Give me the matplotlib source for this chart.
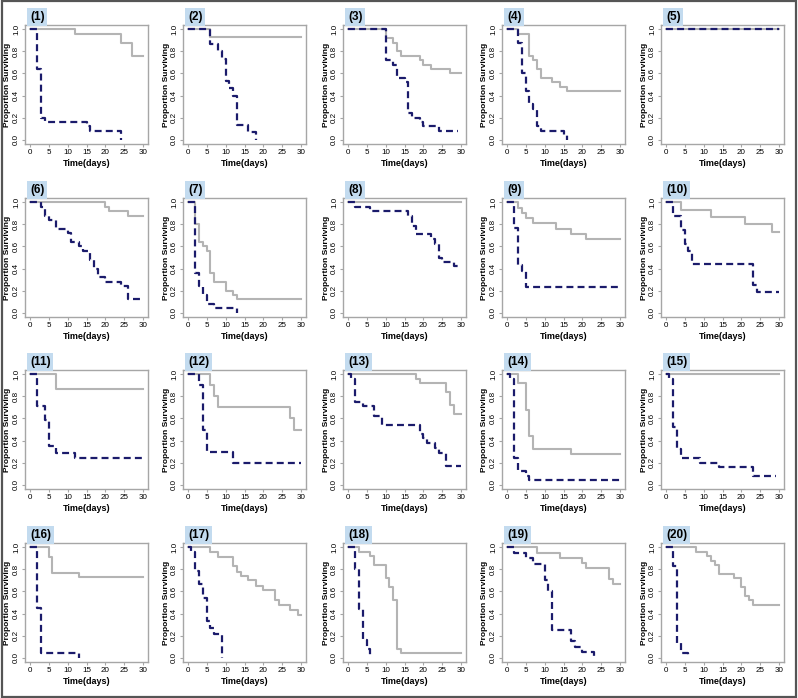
import matplotlib
matplotlib.use("Agg")
import matplotlib.pyplot as plt
from matplotlib.patches import Rectangle

plt.rcParams['font.family'] = ['Liberation Sans', 'DejaVu Sans']
plt.rcParams['lines.scale_dashes'] = False

# survival curves: g = grey solid group, d = navy dashed group
# times (days) and proportion surviving after each step
g1_t = [0, 12, 24, 27, 30]
g1_s = [1, .96, .88, .76, .76]
d1_t = [0, 2, 3, 4, 15, 16, 24]
d1_s = [1, .64, .20, .16, .12, .08, 0]

g2_t = [0, 6, 30]
g2_s = [1, .93, .93]
d2_t = [0, 6, 8, 9, 10, 11, 12, 13, 16, 18]
d2_s = [1, .87, .80, .73, .53, .47, .40, .13, .07, 0]

g3_t = [0, 10, 12, 13, 14, 19, 20, 22, 27, 30]
g3_s = [1, .92, .88, .80, .76, .72, .68, .64, .60, .60]
d3_t = [0, 10, 12, 13, 15, 16, 17, 19, 20, 24, 29]
d3_s = [1, .72, .68, .56, .52, .24, .20, .16, .12, .08, .08]

g4_t = [0, 3, 6, 7, 8, 9, 12, 14, 16, 30]
g4_s = [1, .96, .76, .72, .64, .56, .52, .48, .44, .44]
d4_t = [0, 3, 4, 5, 6, 7, 8, 9, 15, 16]
d4_s = [1, .88, .60, .44, .32, .28, .12, .08, .04, 0]

g5_t = [0, 30]
g5_s = [1, 1]
d5_t = [0, 30]
d5_s = [1, 1]

g6_t = [0, 20, 21, 26, 30]
g6_s = [1, .96, .92, .88, .88]
d6_t = [0, 3, 4, 5, 7, 10, 11, 13, 14, 16, 17, 18, 20, 24, 26, 30]
d6_s = [1, .96, .88, .84, .76, .72, .64, .60, .56, .48, .40, .32, .28, .24, .12, .12]

g7_t = [0, 2, 3, 4, 5, 6, 7, 10, 12, 13, 30]
g7_s = [1, .80, .64, .60, .56, .36, .28, .20, .16, .12, .12]
d7_t = [0, 2, 3, 4, 5, 7, 13]
d7_s = [1, .36, .24, .16, .08, .04, 0]

g8_t = [0, 30]
g8_s = [1, 1]
d8_t = [0, 2, 6, 16, 17, 18, 22, 23, 24, 25, 28, 30]
d8_s = [1, .96, .92, .88, .79, .71, .67, .62, .50, .46, .42, .42]

g9_t = [0, 3, 4, 5, 7, 13, 17, 21, 30]
g9_s = [1, .95, .90, .86, .81, .76, .71, .67, .67]
d9_t = [0, 2, 3, 4, 5, 30]
d9_s = [1, .77, .43, .38, .23, .23]

g10_t = [0, 4, 12, 21, 28, 30]
g10_s = [1, .93, .87, .80, .73, .73]
d10_t = [0, 2, 4, 5, 6, 7, 23, 24, 30]
d10_s = [1, .88, .75, .62, .56, .44, .25, .19, .19]

g11_t = [0, 7, 30]
g11_s = [1, .87, .87]
d11_t = [0, 2, 4, 5, 7, 12, 30]
d11_s = [1, .71, .59, .35, .29, .24, .24]

g12_t = [0, 6, 7, 8, 27, 28, 30]
g12_s = [1, .90, .80, .70, .60, .50, .50]
d12_t = [0, 3, 4, 5, 12, 30]
d12_s = [1, .90, .50, .30, .20, .20]

g13_t = [0, 18, 19, 26, 27, 28, 30]
g13_s = [1, .96, .92, .84, .72, .64, .64]
d13_t = [0, 1, 2, 4, 7, 9, 19, 20, 21, 23, 24, 26, 30]
d13_s = [1, .96, .75, .71, .62, .54, .46, .42, .38, .33, .29, .17, .17]

g14_t = [0, 3, 5, 6, 7, 17, 30]
g14_s = [1, .92, .68, .44, .32, .28, .28]
d14_t = [0, 1, 2, 3, 5, 6, 30]
d14_s = [1, .96, .24, .12, .08, .04, .04]

g15_t = [0, 30]
g15_s = [1, 1]
d15_t = [0, 1, 2, 3, 4, 9, 14, 23, 29]
d15_s = [1, .96, .52, .32, .24, .20, .16, .08, .08]

g16_t = [0, 5, 6, 13, 30]
g16_s = [1, .91, .77, .73, .73]
d16_t = [0, 2, 3, 13]
d16_s = [1, .45, .045, 0]

g17_t = [0, 6, 8, 12, 13, 14, 16, 18, 20, 23, 24, 27, 29, 30]
g17_s = [1, .96, .91, .83, .78, .74, .70, .65, .61, .52, .48, .43, .39, .39]
d17_t = [0, 1, 2, 3, 4, 5, 6, 7, 9]
d17_s = [1, .96, .79, .67, .54, .33, .27, .21, 0]

g18_t = [0, 3, 6, 7, 10, 11, 12, 13, 14, 30]
g18_s = [1, .96, .92, .84, .72, .64, .52, .08, .04, .04]
d18_t = [0, 2, 3, 4, 5, 6]
d18_s = [1, .80, .44, .16, .08, 0]

g19_t = [0, 8, 14, 20, 21, 27, 28, 30]
g19_s = [1, .95, .90, .86, .81, .71, .67, .67]
d19_t = [0, 2, 5, 7, 10, 11, 12, 17, 18, 20, 23]
d19_s = [1, .95, .90, .85, .70, .60, .25, .15, .10, .05, 0]

g20_t = [0, 8, 11, 12, 13, 14, 18, 20, 21, 22, 23, 30]
g20_s = [1, .96, .92, .88, .84, .76, .72, .64, .56, .52, .48, .48]
d20_t = [0, 2, 3, 4, 6]
d20_s = [1, .83, .13, .04, 0]

grey = [(g1_t, g1_s), (g2_t, g2_s), (g3_t, g3_s), (g4_t, g4_s), (g5_t, g5_s),
        (g6_t, g6_s), (g7_t, g7_s), (g8_t, g8_s), (g9_t, g9_s), (g10_t, g10_s),
        (g11_t, g11_s), (g12_t, g12_s), (g13_t, g13_s), (g14_t, g14_s), (g15_t, g15_s),
        (g16_t, g16_s), (g17_t, g17_s), (g18_t, g18_s), (g19_t, g19_s), (g20_t, g20_s)]
dash = [(d1_t, d1_s), (d2_t, d2_s), (d3_t, d3_s), (d4_t, d4_s), (d5_t, d5_s),
        (d6_t, d6_s), (d7_t, d7_s), (d8_t, d8_s), (d9_t, d9_s), (d10_t, d10_s),
        (d11_t, d11_s), (d12_t, d12_s), (d13_t, d13_s), (d14_t, d14_s), (d15_t, d15_s),
        (d16_t, d16_s), (d17_t, d17_s), (d18_t, d18_s), (d19_t, d19_s), (d20_t, d20_s)]

W, H = 798, 698
fig = plt.figure(figsize=(W / 100, H / 100), dpi=100)

# outer frame
fig.patches.append(Rectangle((0.002, 0.002), 0.996, 0.996, transform=fig.transFigure,
                             fill=False, ec='#555555', lw=1.6))

lefts = [25, 183, 343, 502, 661]
tops = [25, 198, 370, 543]
aw, ah = 123, 119
frame_col = '#a6a6a6'

for i in range(20):
    r, c = divmod(i, 5)
    l, t = lefts[c], tops[r]
    ax = fig.add_axes([l / W, 1 - (t + ah) / H, aw / W, ah / H])
    gt, gs = grey[i]
    dt, ds = dash[i]
    ax.plot(gt, gs, drawstyle='steps-post', color='#b4b4b4', lw=1.5)
    ax.plot(dt, ds, drawstyle='steps-post', color='#1b1b6b', lw=1.6, dashes=(5, 3))
    ax.set_xlim(-1.2, 31.2)
    ax.set_ylim(-0.04, 1.04)
    ax.set_xticks([0, 5, 10, 15, 20, 25, 30])
    ax.set_yticks([0, .2, .4, .6, .8, 1.0])
    ax.set_yticklabels(['0.0', '0.2', '0.4', '0.6', '0.8', '1.0'], rotation=90, va='center')
    ax.tick_params(labelsize=5.8, length=2.5, width=0.8, color=frame_col, pad=1)
    for sp in ax.spines.values():
        sp.set_color(frame_col)
        sp.set_linewidth(1.0)
    ax.set_xlabel('Time(days)', fontsize=6.5, fontweight='bold', labelpad=2)
    ax.set_ylabel('Proportion Surviving', fontsize=6.0, fontweight='bold')
    ax.yaxis.set_label_coords(-13.5 / aw, 0.5)
    ax.text(0.04, 1.015, '(%d)' % (i + 1), transform=ax.transAxes, fontsize=8.5,
            fontweight='bold', va='bottom', ha='left',
            bbox=dict(boxstyle='square,pad=0.25', fc='#c3dbef', ec='none'))

fig.savefig('out.png', dpi=100)
